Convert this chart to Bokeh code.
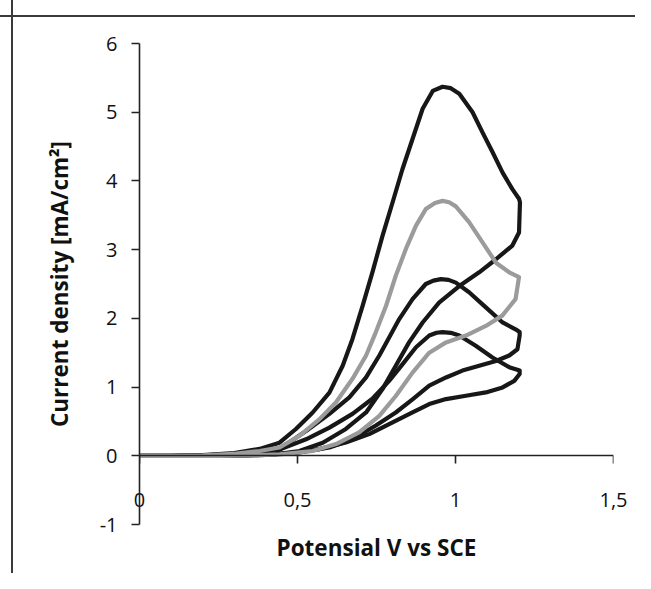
from bokeh.plotting import figure
from bokeh.models import FixedTicker, Range1d, LinearAxis
from bokeh.embed import file_html
from bokeh.resources import INLINE

# ---- tick labels ----
x_ticks = [0, 0.5, 1, 1.5]
x_tick_labels = ["0", "0,5", "1", "1,5"]
y_ticks = [-1, 0, 1, 2, 3, 4, 5, 6]
y_tick_labels = ["-1", "0", "1", "2", "3", "4", "5", "6"]

# ---- curve A (largest, black) ----
v_fwd_a = [0.00, 0.10, 0.20, 0.30, 0.38, 0.443, 0.495, 0.548, 0.601, 0.643, 0.674, 0.706, 0.737,
           0.769, 0.801, 0.832, 0.864, 0.896, 0.928, 0.959, 0.985, 1.012, 1.054, 1.085, 1.117, 1.149, 1.180, 1.201]
j_fwd_a = [0.00, 0.00, 0.01, 0.04, 0.10, 0.19, 0.39, 0.63, 0.92, 1.31, 1.70, 2.18, 2.67,
           3.20, 3.69, 4.17, 4.61, 5.05, 5.31, 5.37, 5.35, 5.27, 5.00, 4.71, 4.42, 4.12, 3.88, 3.74]
v_rev_a = [1.204, 1.201, 1.180, 1.128, 1.075, 1.012, 0.948, 0.896, 0.853, 0.811, 0.769, 0.717,
           0.653, 0.580, 0.506, 0.43, 0.35, 0.25, 0.10, 0.00]
j_rev_a = [3.69, 3.25, 3.06, 2.86, 2.67, 2.47, 2.23, 1.94, 1.65, 1.31, 0.97, 0.63,
           0.39, 0.19, 0.07, 0.02, 0.005, 0.0, 0.0, 0.0]

# ---- curve B (gray) ----
v_fwd_b = [0.00, 0.10, 0.20, 0.30, 0.38, 0.443, 0.506, 0.569, 0.622, 0.674, 0.717, 0.748, 0.780,
           0.811, 0.843, 0.875, 0.906, 0.935, 0.959, 0.980, 1.001, 1.043, 1.085, 1.128, 1.170, 1.201]
j_fwd_b = [0.00, 0.00, 0.005, 0.03, 0.07, 0.12, 0.29, 0.53, 0.78, 1.12, 1.46, 1.80, 2.18,
           2.62, 3.01, 3.35, 3.59, 3.68, 3.71, 3.69, 3.63, 3.40, 3.11, 2.81, 2.67, 2.60]
v_rev_b = [1.200, 1.190, 1.148, 1.096, 1.033, 0.970, 0.917, 0.864, 0.811, 0.759, 0.695, 0.622,
           0.548, 0.443, 0.35, 0.25, 0.10, 0.00]
j_rev_b = [2.57, 2.28, 2.04, 1.89, 1.75, 1.65, 1.50, 1.21, 0.87, 0.58, 0.34, 0.17,
           0.07, 0.02, 0.005, 0.0, 0.0, 0.0]

# ---- curve C (black) ----
v_fwd_c = [0.00, 0.10, 0.20, 0.30, 0.38, 0.443, 0.527, 0.601, 0.664, 0.717, 0.759, 0.790, 0.822,
           0.864, 0.906, 0.930, 0.954, 0.978, 1.001, 1.043, 1.096, 1.149, 1.190, 1.203]
j_fwd_c = [0.00, 0.00, 0.005, 0.025, 0.06, 0.10, 0.36, 0.61, 0.85, 1.14, 1.46, 1.72, 1.99,
           2.28, 2.50, 2.55, 2.57, 2.56, 2.52, 2.38, 2.16, 1.94, 1.84, 1.80]
v_rev_c = [1.203, 1.196, 1.170, 1.128, 1.075, 1.022, 0.970, 0.917, 0.864, 0.811, 0.748, 0.674,
           0.601, 0.506, 0.40, 0.30, 0.10, 0.00]
j_rev_c = [1.75, 1.55, 1.46, 1.38, 1.31, 1.24, 1.14, 1.02, 0.82, 0.63, 0.44, 0.24,
           0.12, 0.05, 0.015, 0.005, 0.0, 0.0]

# ---- curve D (smallest, black) ----
v_fwd_d = [0.00, 0.10, 0.20, 0.30, 0.38, 0.443, 0.527, 0.601, 0.674, 0.737, 0.790, 0.832, 0.875,
           0.917, 0.940, 0.959, 0.985, 1.012, 1.064, 1.117, 1.170, 1.203]
j_fwd_d = [0.00, 0.00, 0.005, 0.02, 0.05, 0.09, 0.24, 0.41, 0.61, 0.83, 1.09, 1.33, 1.58,
           1.75, 1.79, 1.80, 1.79, 1.75, 1.60, 1.43, 1.29, 1.24]
v_rev_d = [1.203, 1.186, 1.149, 1.096, 1.033, 0.970, 0.917, 0.864, 0.801, 0.727, 0.653, 0.569,
           0.485, 0.40, 0.30, 0.10, 0.00]
j_rev_d = [1.19, 1.09, 0.995, 0.922, 0.873, 0.825, 0.752, 0.631, 0.485, 0.315, 0.194, 0.097,
           0.04, 0.015, 0.005, 0.0, 0.0]

BLACK = "#171717"
GRAY = "#9b9b9b"
FONT = "Open Sans"
AX = "#222222"

p = figure(width=635, height=573, x_range=Range1d(0, 1.5), y_range=Range1d(-1, 6),
           output_backend="svg", toolbar_location=None,
           min_border_left=139, min_border_right=22, min_border_top=43, min_border_bottom=49)
p.background_fill_color = "white"
p.border_fill_color = None
p.outline_line_color = None
p.xgrid.visible = False
p.ygrid.visible = False
# page border of the scanned figure (top and left edges)
p.styles = {
    "background": "linear-gradient(#3a3a3a,#3a3a3a) 0px 15px / 100% 2px no-repeat, "
                  "linear-gradient(#3a3a3a,#3a3a3a) 11px 0px / 2px 100% no-repeat, white"
}

for vf, jf, vr, jr, col in [(v_fwd_a, j_fwd_a, v_rev_a, j_rev_a, BLACK),
                            (v_fwd_c, j_fwd_c, v_rev_c, j_rev_c, BLACK),
                            (v_fwd_d, j_fwd_d, v_rev_d, j_rev_d, BLACK),
                            (v_fwd_b, j_fwd_b, v_rev_b, j_rev_b, GRAY)]:
    p.line(vf + vr, jf + jr, line_color=col, line_width=4.2,
           line_join="round", line_cap="round")

# bottom axis: carries the tick labels and the title only
xa = p.xaxis[0]
xa.ticker = FixedTicker(ticks=x_ticks)
xa.major_label_overrides = {t: s for t, s in zip(x_ticks, x_tick_labels)}
xa.axis_label = "Potensial V vs SCE"
xa.axis_line_color = None
xa.major_tick_line_color = None
xa.minor_tick_line_color = None
xa.major_tick_out = 0
xa.major_tick_in = 0
xa.major_label_standoff = -32
xa.axis_label_standoff = 22

# axis line and ticks crossing at y = 0
x0 = LinearAxis(fixed_location=0, ticker=FixedTicker(ticks=x_ticks),
                major_label_text_alpha=0, minor_tick_line_color=None,
                axis_line_color=AX, axis_line_width=1.6,
                major_tick_line_color=AX, major_tick_line_width=1.6,
                major_tick_out=8, major_tick_in=0)
p.add_layout(x0, "below")

ya = p.yaxis[0]
ya.ticker = FixedTicker(ticks=y_ticks)
ya.major_label_overrides = {t: s for t, s in zip(y_ticks, y_tick_labels)}
ya.axis_label = "Current density [mA/cm²]"
ya.major_label_standoff = 14
ya.axis_label_standoff = 22
ya.axis_line_color = AX
ya.axis_line_width = 1.6
ya.major_tick_line_color = AX
ya.major_tick_line_width = 1.6
ya.major_tick_out = 8
ya.major_tick_in = 0
ya.minor_tick_line_color = None

for ax in (xa, ya):
    ax.major_label_text_font = FONT
    ax.major_label_text_font_size = "20px"
    ax.major_label_text_color = "#111111"
    ax.axis_label_text_font = FONT
    ax.axis_label_text_font_size = "22.5px"
    ax.axis_label_text_font_style = "bold"
    ax.axis_label_text_color = "#111111"

open("out.html", "w").write(file_html(p, INLINE))
